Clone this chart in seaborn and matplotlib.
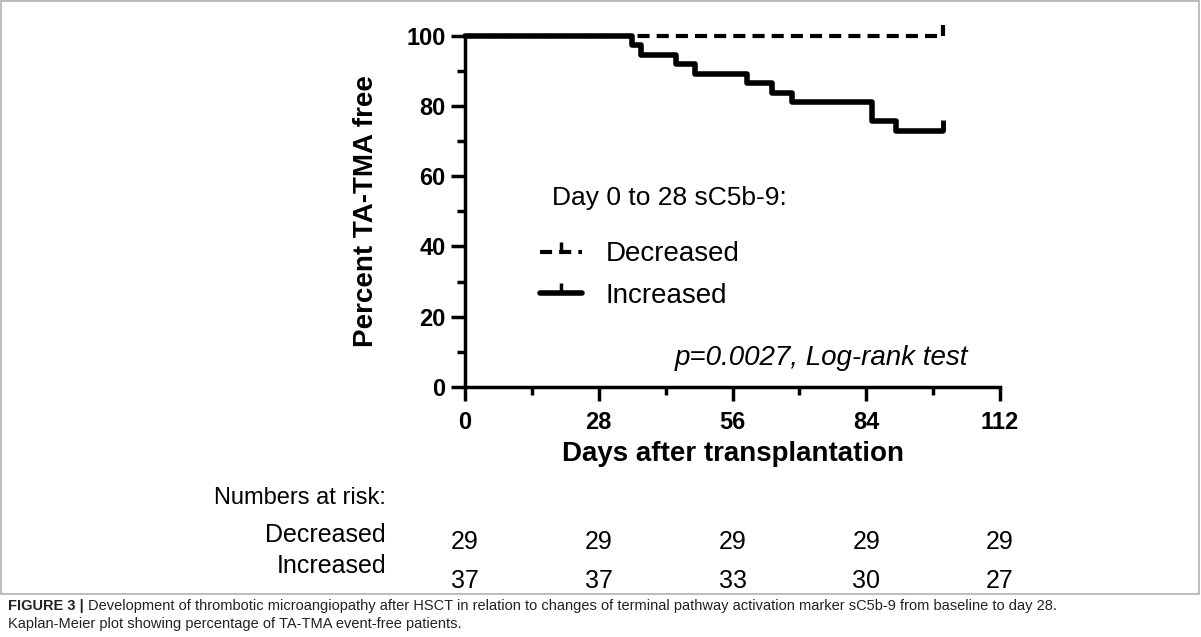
import numpy as np
import pandas as pd
import seaborn as sns
import matplotlib.pyplot as plt
from matplotlib.lines import Line2D
from matplotlib.patches import Rectangle

# Kaplan-Meier steps (day, % TA-TMA free)
inc_days = [0, 35.0, 36.9, 44.2, 48.1, 59.1, 64.3, 68.4, 85.1, 90.2, 100]
inc_pct = [100, 97.3, 94.6, 91.9, 89.2, 86.5, 83.8, 81.1, 75.7, 73.0, 73.0]
dec_days = [0, 100]
dec_pct = [100, 100]

risk_days = [0, 28, 56, 84, 112]
risk_dec = [29, 29, 29, 29, 29]
risk_inc = [37, 37, 33, 30, 27]

x_ticks = [0, 28, 56, 84, 112]
y_ticks = [0, 20, 40, 60, 80, 100]

sns.set_style("ticks")
plt.rcParams['font.family'] = ['Liberation Sans', 'DejaVu Sans']
plt.rcParams.update({'text.color': 'black', 'axes.labelcolor': 'black',
                     'xtick.color': 'black', 'ytick.color': 'black',
                     'axes.edgecolor': 'black'})

fig = plt.figure(figsize=(12.01, 6.37), dpi=100)
ax = fig.add_axes([0.3872, 0.3925, 0.4455, 0.5515])

df_inc = pd.DataFrame({'day': inc_days, 'pct': inc_pct})
df_dec = pd.DataFrame({'day': dec_days, 'pct': dec_pct})

tick_marker = [(0, 0), (0, 1)]

sns.lineplot(data=df_dec, x='day', y='pct', ax=ax, color='black', lw=3,
             drawstyle='steps-post', estimator=None, sort=False, clip_on=False)
ax.lines[-1].set_dashes((2.9, 1.7))
sns.lineplot(data=df_inc, x='day', y='pct', ax=ax, color='black', lw=4,
             drawstyle='steps-post', estimator=None, sort=False, clip_on=False)
# censor marks at end of follow-up
ax.plot([dec_days[-1]], [dec_pct[-1]], marker=tick_marker, ms=16, mew=3,
        color='black', ls='none', clip_on=False)
ax.plot([inc_days[-1]], [inc_pct[-1]], marker=tick_marker, ms=16, mew=3.5,
        color='black', ls='none', clip_on=False)

ax.set_xlim(0, 112)
ax.set_ylim(0, 100)
ax.set_xticks(x_ticks)
ax.set_xticks([14, 42, 70, 98], minor=True)
ax.set_yticks(y_ticks)
ax.set_yticks([10, 30, 50, 70, 90], minor=True)
ax.tick_params(which='major', direction='out', length=10, width=2.5, labelsize=17, pad=4)
ax.tick_params(which='minor', direction='out', length=6, width=2.5)
ax.tick_params(axis='x', which='major', pad=7)
for lab in ax.get_xticklabels() + ax.get_yticklabels():
    lab.set_fontweight('bold')
sns.despine(ax=ax)
for s in ['left', 'bottom']:
    ax.spines[s].set_linewidth(2.5)

ax.set_xlabel('Days after transplantation', fontsize=20, fontweight='bold')
ax.set_ylabel('Percent TA-TMA free', fontsize=20, fontweight='bold')
ax.xaxis.set_label_coords(0.5, -0.155)
ax.yaxis.set_label_coords(-0.16, 0.5)

# legend
fig.text(552 / 1201, 1 - 198 / 637, 'Day 0 to 28 sC5b-9:', fontsize=19, va='center', ha='left')
handles = [Line2D([], [], color='black', lw=3, ls=(0, (2.9, 1.7)), marker=tick_marker, ms=14, mew=2.5),
           Line2D([], [], color='black', lw=4, marker=tick_marker, ms=14, mew=2.5)]
leg = ax.legend(handles, ['Decreased', 'Increased'], loc='center left',
                bbox_to_anchor=(540 / 1201, 1 - 275 / 637), bbox_transform=fig.transFigure,
                frameon=False, fontsize=20, handlelength=1.5, handletextpad=0.85,
                labelspacing=0.55, borderpad=0, borderaxespad=0, numpoints=1)

ax.text(968 / 1201, 1 - 358 / 637, 'p=0.0027, Log-rank test', transform=fig.transFigure,
        fontsize=20, style='italic', ha='right', va='center')

# numbers at risk table
fig.text(386 / 1201, 1 - 498 / 637, 'Numbers at risk:', fontsize=17, ha='right', va='center')
fig.text(386 / 1201, 1 - 535 / 637, 'Decreased', fontsize=18, ha='right', va='center')
fig.text(386 / 1201, 1 - 566 / 637, 'Increased', fontsize=18, ha='right', va='center')
trans = ax.get_xaxis_transform()
for d, n in zip(risk_days, risk_dec):
    ax.text(d, (387 - 542) / 351.3, str(n), transform=trans, fontsize=18,
            ha='center', va='center', clip_on=False)
for d, n in zip(risk_days, risk_inc):
    ax.text(d, (387 - 581) / 351.3, str(n), transform=trans, fontsize=18,
            ha='center', va='center', clip_on=False)

# frame and caption
fig.patches.append(Rectangle((1 / 1201, 1 - 594 / 637), 1198 / 1201, 593 / 637,
                             transform=fig.transFigure, fill=False, ec='#b0b0b0', lw=1.2))
cap1 = fig.text(8 / 1201, 1 - 606 / 637, 'FIGURE 3 |', fontsize=10.5, fontweight='bold',
                color='#222222', va='center', ha='left')
fig.canvas.draw()
bb = cap1.get_window_extent()
fig.text((bb.x1 + 4) / 1201, 1 - 606 / 637,
         'Development of thrombotic microangiopathy after HSCT in relation to changes of terminal '
         'pathway activation marker sC5b-9 from baseline to day 28.',
         fontsize=10.5, color='#222222', va='center', ha='left')
fig.text(8 / 1201, 1 - 624 / 637, 'Kaplan-Meier plot showing percentage of TA-TMA event-free patients.',
         fontsize=10.5, color='#222222', va='center', ha='left')

fig.savefig('out.png', dpi=100)
